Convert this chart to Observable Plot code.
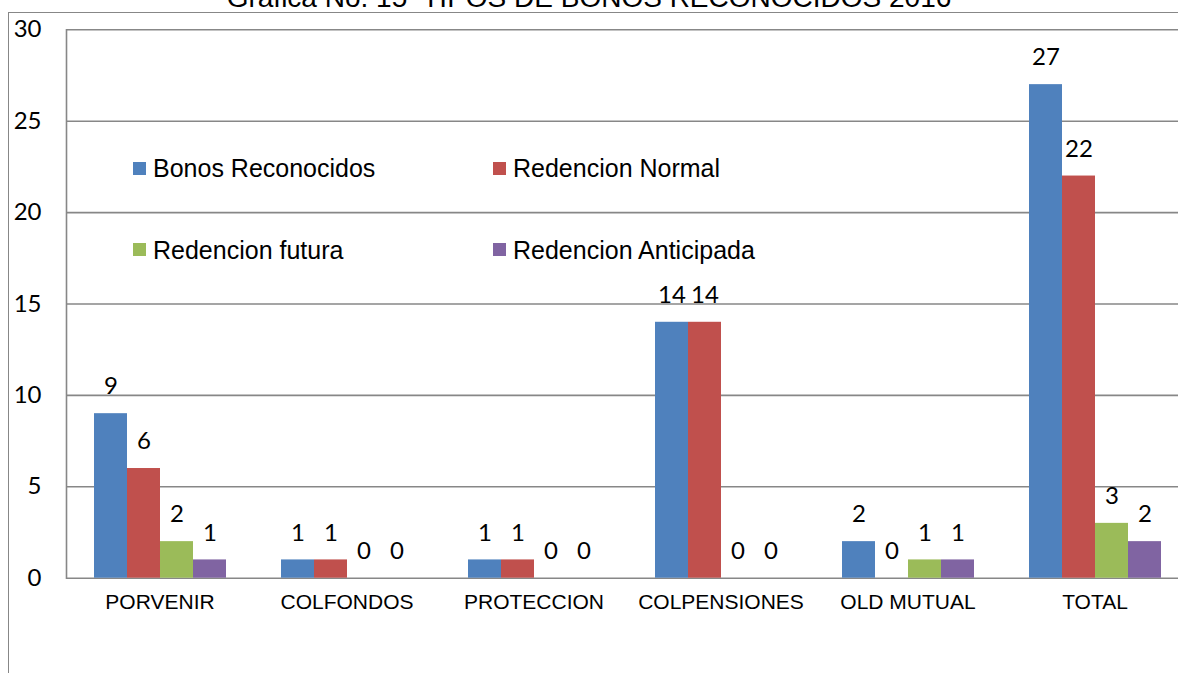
<!DOCTYPE html>
<html>
<head>
<meta charset="utf-8">
<script src="https://cdn.jsdelivr.net/npm/d3@7"></script>
<script src="https://cdn.jsdelivr.net/npm/@observablehq/plot@0.6"></script>
<style>
  html, body { margin: 0; padding: 0; background: #fff; overflow: hidden; }
  #wrap { position: relative; width: 1178px; height: 673px; overflow: hidden; background: #fff; }
  #wrap svg { max-width: none !important; position: absolute; left: 0; top: 0; }
  #frame { position: absolute; left: 8px; top: 12px; width: 1300px; height: 800px;
           border-left: 1.5px solid #878787; border-top: 1.5px solid #878787; }
  #title { position: absolute; left: 0; top: -15.7px; width: 1178px; text-align: center;
           font-family: "Liberation Sans", Arial, sans-serif; font-size: 28px; line-height: 28px;
           white-space: pre; color: #000; }
  .leg { position: absolute; font-family: "Liberation Sans", Arial, sans-serif; font-size: 25px;
         line-height: 25px; color: #000; white-space: pre; }
  .sq { position: absolute; width: 13px; height: 13px; }
</style>
</head>
<body>
<div id="wrap">
  <div id="frame"></div>
  <div id="chart"></div>
  <div id="title">Grafica No. 15  TIPOS DE BONOS RECONOCIDOS 2016</div>
  <div id="legend"></div>
</div>
<script>
const categories = ["PORVENIR", "COLFONDOS", "PROTECCION", "COLPENSIONES", "OLD MUTUAL", "TOTAL"];
const seriesNames = ["Bonos Reconocidos", "Redencion Normal", "Redencion futura", "Redencion Anticipada"];
const bonosReconocidos = [9, 1, 1, 14, 2, 27];
const redencionNormal = [6, 1, 1, 14, 0, 22];
const redencionFutura = [2, 0, 0, 0, 1, 3];
const redencionAnticipada = [1, 0, 0, 0, 1, 2];
const yTicks = [0, 5, 10, 15, 20, 25, 30];
const colors = ["#4F81BD", "#C0504D", "#9BBB59", "#8064A2"];

const seriesValues = [bonosReconocidos, redencionNormal, redencionFutura, redencionAnticipada];
const data = [];
categories.forEach((c, i) => {
  seriesNames.forEach((s, j) => data.push({cat: c, series: s, value: seriesValues[j][i]}));
});

const grid = "#878787";
const chart = Plot.plot({
  width: 1189,
  height: 673,
  marginLeft: 65,
  marginRight: 0,
  marginTop: 29.3,
  marginBottom: 95.3,
  style: {background: "transparent"},
  fx: {domain: categories, padding: 0, label: null},
  x: {domain: seriesNames, paddingInner: 0, paddingOuter: 0.754, axis: null},
  y: {domain: [0, 30], axis: null},
  color: {domain: seriesNames, range: colors},
  marks: [
    Plot.ruleY(yTicks, {stroke: grid, strokeWidth: 1.6}),
    Plot.barY(data, {fx: "cat", x: "series", y: "value", fill: "series"}),
    Plot.text(data, {fx: "cat", x: "series", y: "value", text: d => String(d.value), dy: -27,
      fontFamily: "Lato, 'Open Sans', sans-serif", fontSize: 24, fill: "#000"}),
    Plot.frame({anchor: "left", facetAnchor: "left", stroke: grid, strokeWidth: 1.6}),
    Plot.axisY(yTicks, {anchor: "left", tickSize: 0, tickPadding: 25, label: null,
      fill: "#000", fontFamily: "Lato, 'Open Sans', sans-serif", fontSize: 24}),
    Plot.axisFx({anchor: "bottom", tickSize: 0, tickPadding: 16, label: null,
      fill: "#000", fontFamily: "'Liberation Sans', Arial, sans-serif", fontSize: 21})
  ]
});
document.getElementById("chart").appendChild(chart);

// legend (inside plot area, two columns x two rows)
const legend = document.getElementById("legend");
const legPos = [[133, 153, 162, 155.5], [493, 513, 162, 155.5], [133, 153, 243, 238], [493, 513, 243, 238]];
seriesNames.forEach((s, i) => {
  const [sx, tx, sy, ty] = legPos[i];
  const sq = document.createElement("div");
  sq.className = "sq";
  sq.style.left = sx + "px"; sq.style.top = sy + "px"; sq.style.background = colors[i];
  legend.appendChild(sq);
  const t = document.createElement("div");
  t.className = "leg";
  t.style.left = tx + "px"; t.style.top = ty + "px";
  t.textContent = s;
  legend.appendChild(t);
});
</script>
</body>
</html>
